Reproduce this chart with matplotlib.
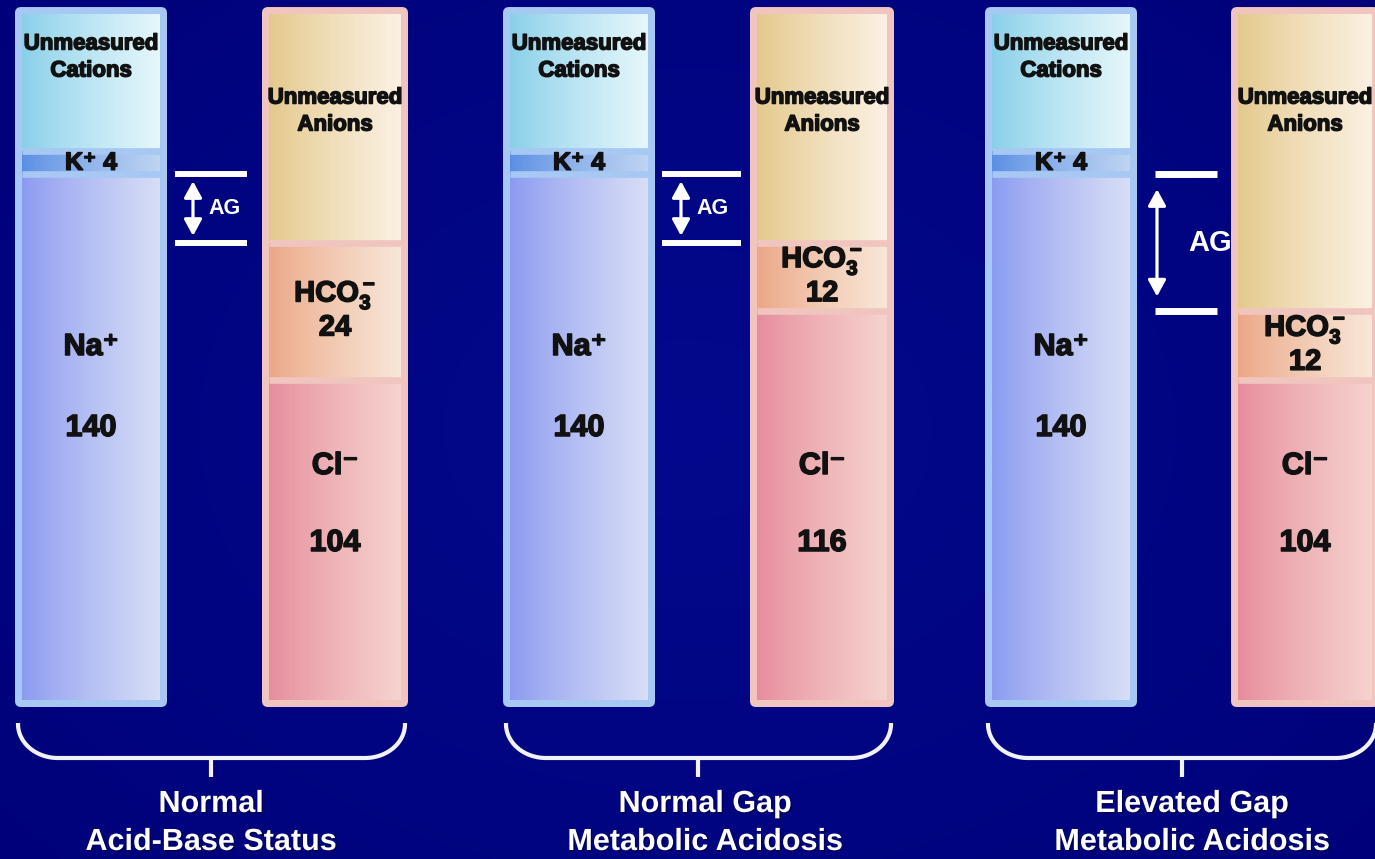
import numpy as np
import matplotlib
matplotlib.use("Agg")
import matplotlib.pyplot as plt
from matplotlib.patches import FancyBboxPatch, FancyArrowPatch
from matplotlib.colors import to_rgb
import matplotlib.patheffects as pe

# ---- data (mEq/L) ---------------------------------------------------------
panel_line1 = ["Normal", "Normal Gap", "Elevated Gap"]
panel_line2 = ["Acid-Base Status", "Metabolic Acidosis", "Metabolic Acidosis"]
sodium = [140, 140, 140]
potassium = [4, 4, 4]
unmeasured_cations = [24, 24, 24]
chloride = [104, 116, 104]
bicarbonate = [24, 12, 12]
unmeasured_anions = [40, 40, 52]

# ---- fonts ----------------------------------------------------------------
plt.rcParams["font.family"] = ["Liberation Sans", "DejaVu Sans"]
plt.rcParams["mathtext.fontset"] = "custom"
plt.rcParams["mathtext.rm"] = "Liberation Sans:bold"
plt.rcParams["mathtext.it"] = "Liberation Sans:bold"
plt.rcParams["mathtext.bf"] = "Liberation Sans:bold"

# ---- canvas: x in pixels, y in mEq/L --------------------------------------
W, H = 1375, 859
PX_PER_UNIT = 5.72          # vertical pixels per mEq/L
ZERO_ROW = 975              # pixel row where 0 mEq/L would sit


def yd(row):
    """pixel row (from top) -> data y"""
    return (ZERO_ROW - row) / PX_PER_UNIT


FLOOR = yd(700)             # lower edge of the visible columns

fig = plt.figure(figsize=(W / 100, H / 100), dpi=100)
ax = fig.add_axes([0, 0, 1, 1])
ax.set_xlim(0, W)
ax.set_ylim(yd(H), yd(0))
ax.axis("off")

# background: deep navy with a faint vignette
gy, gx = np.mgrid[0:1:200j, 0:1:320j]
r = np.sqrt(((gx - 0.5) / 0.8) ** 2 + ((gy - 0.5) / 0.95) ** 2)
r = np.clip(r, 0, 1)
c_in = np.array(to_rgb("#02098c"))
c_out = np.array(to_rgb("#000076"))
bg = c_in[None, None, :] * (1 - r[..., None]) + c_out[None, None, :] * r[..., None]
ax.imshow(bg, extent=(0, W, yd(H), yd(0)), aspect="auto", zorder=0,
          interpolation="bilinear")

# ---- styling --------------------------------------------------------------
cation_left = [15, 503, 985]
anion_left = [262, 750, 1231]
cation_w = 152
anion_w = [146, 144, 148]
BORDER = 7

cation_frame = "#a6c8f2"
anion_frame = "#f1c5bf"
grad_colors = {
    "uc": ("#88cfe9", "#e6f7fb"),
    "k": ("#5a8ee4", "#bed4f2"),
    "na": ("#8a9af0", "#d8def6"),
    "ua": ("#e4c88a", "#fbf1e3"),
    "hco3": ("#eba685", "#f8e7d8"),
    "cl": ("#e68c9c", "#f6d3ce"),
}

label_kw = dict(ha="center", va="center", color="#111111", fontweight="bold",
                zorder=6,
                path_effects=[pe.withStroke(linewidth=1.1, foreground="#111111")])


def paint(patch, colors):
    """fill a bar with a left-to-right colour gradient"""
    x0, w = patch.get_x(), patch.get_width()
    y0 = max(patch.get_y(), FLOOR)
    y1 = patch.get_y() + patch.get_height()
    t = np.linspace(0, 1, 256) ** 0.85
    c0, c1 = np.array(to_rgb(colors[0])), np.array(to_rgb(colors[1]))
    g = c0[None, :] * (1 - t[:, None]) + c1[None, :] * t[:, None]
    im = ax.imshow(g[None, :, :], extent=(x0, x0 + w, y0, y1), aspect="auto",
                   interpolation="bilinear", zorder=2)
    im.set_clip_path(patch)


def column(left, width, values, keys, frame_color):
    inner_w = width - 2 * BORDER
    xc = left + width / 2
    bottoms = np.concatenate([[0], np.cumsum(values)[:-1]])
    top = float(np.sum(values))
    frame = FancyBboxPatch((left + BORDER, FLOOR), inner_w, top - FLOOR,
                           boxstyle="round,pad=%d,rounding_size=6" % BORDER,
                           mutation_aspect=1 / PX_PER_UNIT,
                           fc=frame_color, ec="none", zorder=1)
    ax.add_patch(frame)
    bars = ax.bar([xc] * len(values), values, bottom=bottoms, width=inner_w,
                  color="none", linewidth=0, zorder=2)
    for b, k in zip(bars, keys):
        paint(b, grad_colors[k])
    # light separators between stacked segments
    for yb in bottoms[1:]:
        ax.hlines(yb, left + BORDER, left + width - BORDER, colors=frame_color,
                  linewidth=4.8, zorder=3)
    return xc, bars


# AG marker layout per panel: line x-range, arrow x, text x, text size, line width
ag_layout = [
    dict(x0=175, x1=247, ax_=193, tx=225, fs=15.5, lw=4.3, inset=7),
    dict(x0=662, x1=741, ax_=681, tx=713, fs=15.5, lw=4.3, inset=7),
    dict(x0=1155, x1=1217, ax_=1157, tx=1210, fs=21, lw=5.0, inset=15),
]

title_x = [211, 705, 1192]

for g in range(3):
    na, k, uc = sodium[g], potassium[g], unmeasured_cations[g]
    cl, hc, ua = chloride[g], bicarbonate[g], unmeasured_anions[g]

    cx, cbars = column(cation_left[g], cation_w, [na, k, uc],
                       ["na", "k", "uc"], cation_frame)
    axn, abars = column(anion_left[g], anion_w[g], [cl, hc, ua],
                        ["cl", "hco3", "ua"], anion_frame)

    # cation labels
    ax.text(cx, yd(44), "Unmeasured", fontsize=16, **label_kw)
    ax.text(cx, yd(71), "Cations", fontsize=16, **label_kw)
    ax.text(cx, na + k / 2, f"K\u207a {k}", fontsize=18, **label_kw)
    ax.text(cx, yd(347), "Na\u207a", fontsize=22, **label_kw)
    ax.text(cx, yd(428), str(na), fontsize=22, **label_kw)

    # anion labels
    ax.text(axn, yd(98), "Unmeasured", fontsize=16, **label_kw)
    ax.text(axn, yd(125), "Anions", fontsize=16, **label_kw)
    hc_mid_row = ZERO_ROW - (cl + hc / 2) * PX_PER_UNIT
    ax.text(axn, yd(hc_mid_row - 16), r"HCO$_3^-$", fontsize=21, **label_kw)
    ax.text(axn, yd(hc_mid_row + 16), str(hc), fontsize=21, **label_kw)
    ax.text(axn, yd(466), "Cl\u207b", fontsize=22, **label_kw)
    ax.text(axn, yd(543), str(cl), fontsize=22, **label_kw)

    # anion gap marker: between top of Na+ and top of Cl- + HCO3-
    lay = ag_layout[g]
    y_hi, y_lo = na, cl + hc
    ax.hlines([y_hi, y_lo], lay["x0"], lay["x1"], colors="white",
              linewidth=lay["lw"], zorder=4)
    ins = lay["inset"] / PX_PER_UNIT
    arr = FancyArrowPatch((lay["ax_"], y_hi - ins), (lay["ax_"], y_lo + ins),
                          arrowstyle="<|-|>,head_length=0.55,head_width=0.3",
                          mutation_scale=18, color="white", linewidth=2.3,
                          shrinkA=0, shrinkB=0, zorder=4)
    ax.add_patch(arr)
    ax.text(lay["tx"], (y_hi + y_lo) / 2, "AG", fontsize=lay["fs"],
            color="white", fontweight="bold", ha="center", va="center", zorder=7)

    # brace under the pair of columns
    bx0 = cation_left[g] + 3
    bx1 = anion_left[g] + anion_w[g] - 3
    bm = (bx0 + bx1) / 2
    rx, ry = 40, 34
    top_row, base_row = 723, 758
    pts = [(bx0, top_row)]
    for a in np.linspace(0, np.pi / 2, 30):
        pts.append((bx0 + rx - rx * np.cos(a), base_row - ry + ry * np.sin(a)))
    for a in np.linspace(np.pi / 2, 0, 30):
        pts.append((bx1 - rx + rx * np.cos(a), base_row - ry + ry * np.sin(a)))
    pts.append((bx1, top_row))
    xs = [p[0] for p in pts]
    ys = [yd(p[1]) for p in pts]
    ax.plot(xs, ys, color="#f2f2fa", linewidth=3.0, solid_capstyle="butt",
            solid_joinstyle="round", zorder=4)
    ax.plot([bm, bm], [yd(base_row), yd(777)], color="#f2f2fa", linewidth=3.0,
            solid_capstyle="butt", zorder=4)

    # panel title
    tkw = dict(ha="center", va="center", color="white", fontweight="bold",
               fontsize=22, zorder=6,
               path_effects=[pe.withSimplePatchShadow(offset=(1, -1),
                                                      shadow_rgbFace="#000033",
                                                      alpha=0.6)])
    ax.text(title_x[g], yd(804), panel_line1[g], **tkw)
    ax.text(title_x[g], yd(842), panel_line2[g], **tkw)

fig.savefig("out.png", dpi=100)
